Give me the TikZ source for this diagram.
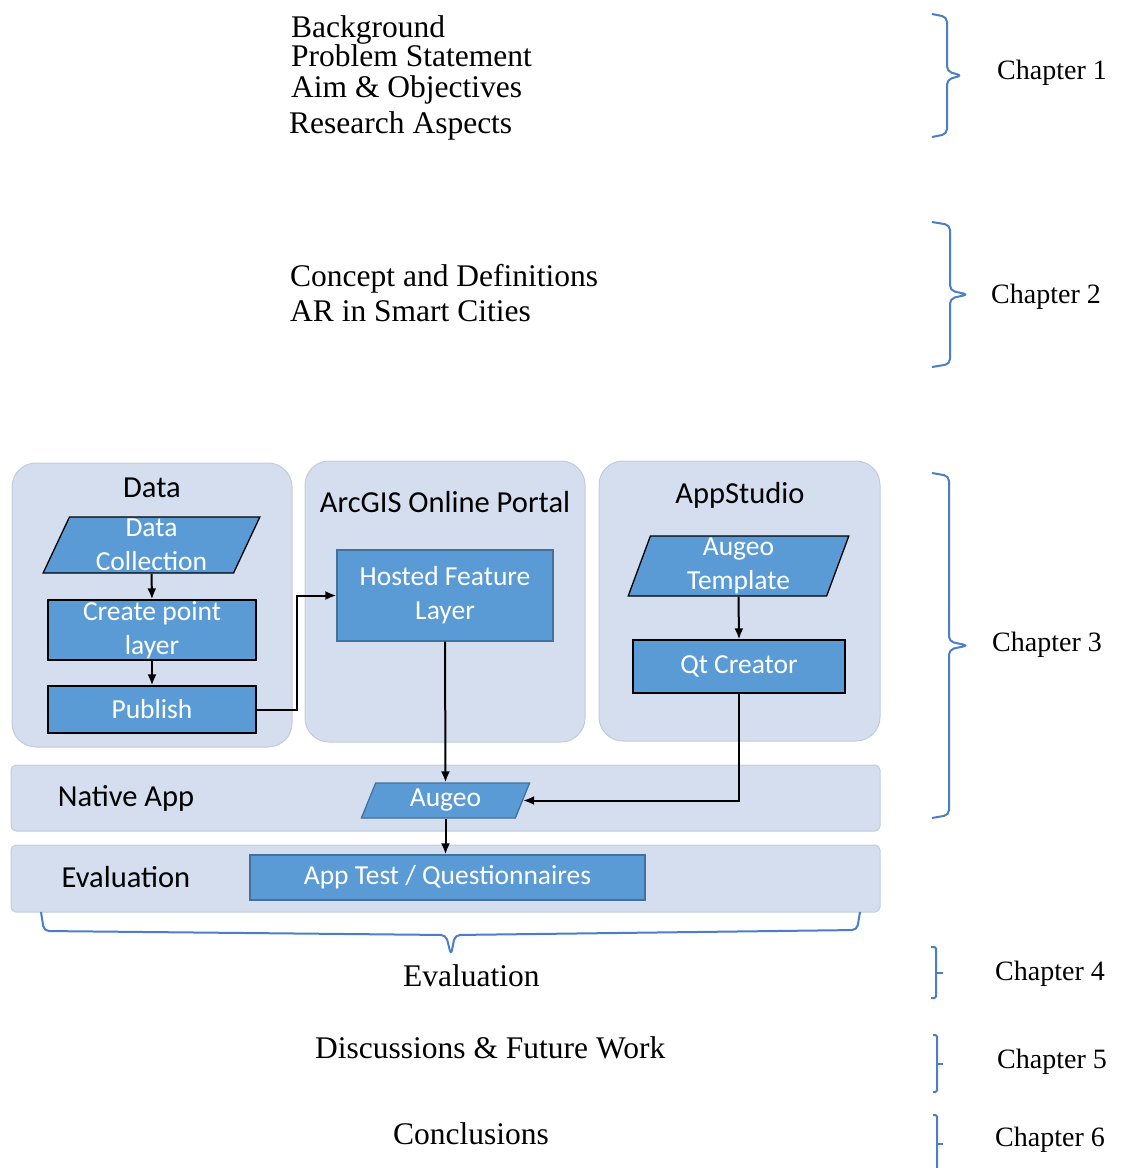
\documentclass[tikz,border=0pt]{standalone}
\usepackage{fontspec}
\setmainfont{Liberation Serif}
\newfontfamily\boxfont{Carlito}
\usepackage{xcolor}
\usetikzlibrary{shapes.geometric, arrows.meta, positioning}

\definecolor{panelfill}{HTML}{D4DEEF}
\definecolor{paneledge}{HTML}{C3CCD9}
\definecolor{boxfill}{HTML}{5B9BD5}
\definecolor{boxedge}{HTML}{41719C}
\definecolor{bracecol}{HTML}{4A7EC6}

% right brace: x, top, bottom, arm, tip
\newcommand{\chapterbrace}[5]{%
    \draw[bracepath] (#1,#2) -- ({#1+#4},{#2+3}) -- ({#1+#4},{(#2+#3)/2-4})
        -- ({#1+#4+#5},{(#2+#3)/2}) -- ({#1+#4},{(#2+#3)/2+4})
        -- ({#1+#4},{#3-3}) -- (#1,#3);}
% small bracket with a tick: x, top, bottom, arm, tip
\newcommand{\tickbrace}[5]{%
    \draw[bracepath, rounded corners=1.5pt] (#1,#2) -- ({#1+#4},#2) -- ({#1+#4},#3) -- (#1,#3);
    \draw[bracepath] ({#1+#4},{(#2+#3)/2}) -- ({#1+#4+#5},{(#2+#3)/2});}

\begin{document}
\begin{tikzpicture}[
        x=1pt, y=-1pt,
        outline/.style={font=\fontsize{31.5}{34}\selectfont, inner sep=0pt, anchor=base west},
        chapter/.style={font=\fontsize{28}{30}\selectfont, inner sep=0pt, anchor=base west},
        panel/.style={rectangle, draw=paneledge, line width=1pt, fill=panelfill, rounded corners=24pt},
        band/.style={rectangle, draw=paneledge, line width=1pt, fill=panelfill, rounded corners=5pt},
        heading/.style={font=\boxfont\fontsize{30.5}{34}\selectfont, inner sep=0pt},
        process/.style={rectangle, draw=#1, line width=1.3pt, fill=boxfill, text=white,
            font=\boxfont\fontsize{27.5}{34}\selectfont, align=center, inner sep=0pt},
        process/.default=black,
        iobox/.style={trapezium, trapezium stretches=true, draw=#1, line width=1.3pt, fill=boxfill,
            text=white, font=\boxfont\fontsize{27.5}{34}\selectfont, align=center, inner sep=0pt},
        iobox/.default=black,
        flow/.style={-{Latex[length=11pt,width=9pt]}, line width=2pt},
        bracepath/.style={draw=bracecol, line width=2pt, rounded corners=5pt}
    ]
    \useasboundingbox (0,0) rectangle (1125,1168);

    % Chapter 1 and 2 outline
    \node[outline] (bg) at (291,37) {Background};
    \node[outline] (ps) at (291,66) {Problem Statement};
    \node[outline] (ao) at (291,97) {Aim \& Objectives};
    \node[outline] (ra) at (289,133) {Research Aspects};
    \node[outline] (cd) at (290,286) {Concept and Definitions};
    \node[outline] (ar) at (290,321) {AR in Smart Cities};

    % panels of chapter 3
    \node[panel, minimum width=280, minimum height=284] (pdata) at (152,605) {};
    \node[panel, minimum width=280, minimum height=281] (pportal) at (445,601.5) {};
    \node[panel, minimum width=281, minimum height=280] (pstudio) at (739.5,601) {};
    \node[band, minimum width=869, minimum height=66] (bnative) at (445.5,798) {};
    \node[band, minimum width=869, minimum height=67] (beval) at (445.5,878.5) {};

    \node[heading] (hdata) at (152,488) {Data};
    \node[heading] (hportal) at (445,502) {ArcGIS Online Portal};
    \node[heading] (hstudio) at (740,495) {AppStudio};
    \node[heading] (hnative) at (126,798) {Native App};
    \node[heading] (heval) at (126,877) {Evaluation};

    % process boxes
    \node[iobox, trapezium left angle=71, trapezium right angle=109,
          minimum width=217, minimum height=56] (dc) at (151.5,545) {Data\\Collection};
    \node[process, minimum width=208, minimum height=60] (cpl) at (152,630) {Create point\\layer};
    \node[process, minimum width=208, minimum height=47] (pub) at (152,709.5) {Publish};
    \node[process=boxedge, minimum width=216, minimum height=91] (hfl) at (445,595.5) {Hosted Feature\\Layer};
    \node[iobox, trapezium left angle=77, trapezium right angle=103,
          minimum width=221, minimum height=60] (tmpl) at (738.5,566) {Augeo\\Template};
    \node[process, minimum width=212, minimum height=53] (qt) at (739,666.5) {Qt Creator};
    \node[iobox=boxedge, trapezium left angle=72, trapezium right angle=108,
          minimum width=169, minimum height=35] (aug) at (445.5,800.5) {Augeo};
    \node[process=boxedge, minimum width=395, minimum height=45] (test) at (447.5,877.5) {App Test / Questionnaires};

    % connectors
    \draw[flow] (dc.south) -- (cpl.north);
    \draw[flow] (cpl.south) -- (pub.north);
    \draw[flow] (pub.east) -- ++(40,0) |- (hfl.west);
    \draw[flow] (hfl.south) -- (aug.north);
    \draw[flow] (tmpl.south) -- (qt.north);
    \draw[flow] (qt.south) |- (aug.east);
    \draw[flow] (aug.south) -- (aug.south |- test.north);

    % braces
    \chapterbrace{932}{14}{137}{15}{15}
    \chapterbrace{932}{222}{367}{18}{18}
    \chapterbrace{932}{473}{818}{17}{19}
    \tickbrace{931}{947}{998}{5}{7}
    \tickbrace{933}{1035}{1092}{4}{6}
    \tickbrace{933}{1115}{1172}{4}{6}
    \draw[bracepath] (41,912) -- (44,931) -- (446,935) -- (451,955)
        -- (455,935) -- (857,930) -- (860,912);

    % chapters 4 to 6
    \node[outline] (ev) at (403,986) {Evaluation};
    \node[outline] (dfw) at (315,1058) {Discussions \& Future Work};
    \node[outline] (con) at (393,1144) {Conclusions};

    \node[chapter] (ch1) at (997,79) {Chapter 1};
    \node[chapter] (ch2) at (991,303) {Chapter 2};
    \node[chapter] (ch3) at (992,651) {Chapter 3};
    \node[chapter] (ch4) at (995,980) {Chapter 4};
    \node[chapter] (ch5) at (997,1068) {Chapter 5};
    \node[chapter] (ch6) at (995,1146) {Chapter 6};
\end{tikzpicture}
\end{document}
